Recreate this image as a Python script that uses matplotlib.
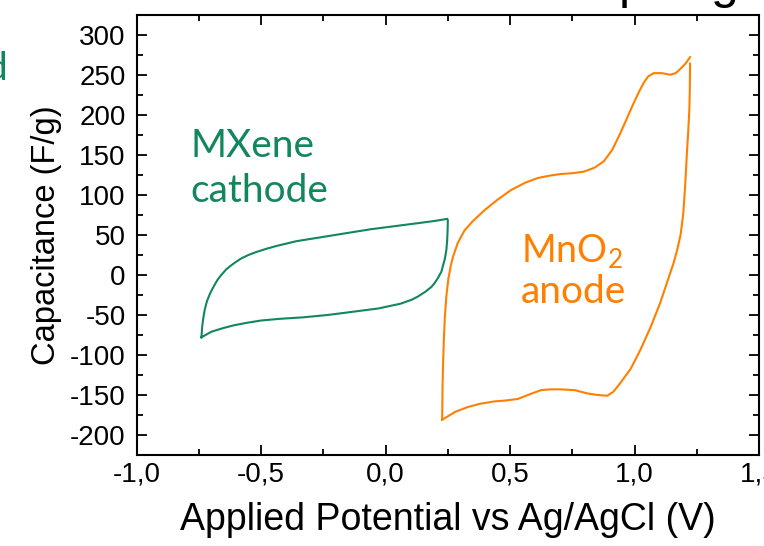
import matplotlib
matplotlib.use("Agg")
import matplotlib.pyplot as plt
from matplotlib.ticker import MultipleLocator, FuncFormatter

# ---- data ----
mxene_v_fwd = [-0.740, -0.737, -0.733, -0.727, -0.718, -0.705, -0.690, -0.675, -0.660, -0.640,
               -0.620, -0.600, -0.580, -0.550, -0.520, -0.480, -0.440, -0.400, -0.360, -0.260,
               -0.160, -0.060, 0.040, 0.140, 0.200, 0.248]
mxene_c_fwd = [-78, -65, -55, -44, -33, -23, -14, -6, 0, 7,
               12, 16.5, 20.5, 25, 28.5, 32.5, 36, 39, 42, 47,
               52, 57, 61, 65, 67.5, 70]
mxene_v_rev = [0.250, 0.249, 0.247, 0.244, 0.238, 0.230, 0.224, 0.210, 0.195, 0.184,
               0.160, 0.130, 0.105, 0.060, 0.000, -0.030, -0.130, -0.230, -0.330, -0.430,
               -0.500, -0.560, -0.610, -0.654, -0.700, -0.740]
mxene_c_rev = [68, 55, 42, 31, 20, 11, 4, -4, -11, -15,
               -21, -27, -31, -36, -40, -42, -46, -50, -53, -55,
               -57, -60, -63, -66.6, -71, -78]

mno2_v_fwd = [0.227, 0.228, 0.229, 0.231, 0.234, 0.238, 0.244, 0.252, 0.262, 0.271,
              0.290, 0.318, 0.350, 0.398, 0.450, 0.504, 0.560, 0.611, 0.660, 0.704,
              0.750, 0.797, 0.840, 0.877, 0.910, 0.943, 0.970, 0.997, 1.020, 1.037,
              1.055, 1.077, 1.110, 1.143, 1.165, 1.183, 1.205, 1.223]
mno2_c_fwd = [-181, -160, -135, -110, -80, -52, -27, -5, 12, 23,
              40, 56, 67, 81, 94, 106, 115, 121, 124, 126,
              127, 129, 134, 142, 156, 177, 196, 215, 230, 240,
              248, 252, 252, 250, 252, 257, 264, 272]
mno2_v_rev = [1.223, 1.222, 1.220, 1.216, 1.210, 1.204, 1.196, 1.185, 1.172, 1.157,
              1.130, 1.103, 1.065, 1.023, 0.985, 0.943, 0.915, 0.890, 0.850, 0.810,
              0.760, 0.704, 0.660, 0.624, 0.580, 0.531, 0.480, 0.438, 0.380, 0.331,
              0.280, 0.227]
mno2_c_rev = [264, 230, 205, 181, 150, 115, 77, 50, 32, 15,
              -10, -35, -65, -94, -117, -135, -146, -151, -150, -148,
              -144, -143, -143, -144, -149, -155, -157, -158, -161, -165,
              -171, -181]

x_ticks = [-1.0, -0.5, 0.0, 0.5, 1.0, 1.5]
y_ticks = [-200, -150, -100, -50, 0, 50, 100, 150, 200, 250, 300]

GREEN = "#12875E"
ORANGE = "#FF8000"

plt.rcParams['font.family'] = ['Liberation Sans', 'DejaVu Sans']

fig = plt.figure(figsize=(7.64, 5.46), dpi=100)
ax = fig.add_axes([136.7/764, 1-455/546, (759-136.7)/764, (455-14.7)/546])

ax.plot(mxene_v_fwd + mxene_v_rev, mxene_c_fwd + mxene_c_rev, color=GREEN, lw=1.5)
ax.plot(mno2_v_fwd, mno2_c_fwd, color=ORANGE, lw=1.5)
ax.plot(mno2_v_rev, mno2_c_rev, color=ORANGE, lw=1.5)

ax.set_xlim(-1.0, 1.5)
ax.set_ylim(-225, 325)
ax.set_xticks(x_ticks)
ax.set_yticks(y_ticks)
ax.xaxis.set_minor_locator(MultipleLocator(0.25))
ax.yaxis.set_minor_locator(MultipleLocator(25))
ax.xaxis.set_major_formatter(FuncFormatter(lambda v, p: f"{v:.1f}".replace('.', ',')))
ax.yaxis.set_major_formatter(FuncFormatter(lambda v, p: f"{int(round(v))}"))

ax.tick_params(which='both', direction='in', top=True, right=True, width=1.3, colors='black')
ax.tick_params(which='major', length=7.5, labelsize=20)
ax.tick_params(axis='x', which='major', pad=5)
ax.tick_params(axis='y', which='major', pad=8)
ax.tick_params(which='minor', length=4.5)
for s in ax.spines.values():
    s.set_linewidth(1.5)

ax.set_xlabel("Applied Potential vs Ag/AgCl (V)", fontsize=27, labelpad=10)
ax.set_ylabel("Capacitance (F/g)", fontsize=23.5, labelpad=6)

ann_font = ['Lato', 'DejaVu Sans']
fig.text(190/764, 1-157/546, "MXene", fontsize=28, color=GREEN, family=ann_font, va='baseline')
fig.text(190/764, 1-202/546, "cathode", fontsize=28, color=GREEN, family=ann_font, va='baseline')
fig.text(521/764, 1-263/546, r"MnO$_\mathregular{2}$", fontsize=27, color=ORANGE, family=ann_font, va='baseline')
fig.text(521/764, 1-303/546, "anode", fontsize=28, color=ORANGE, family=ann_font, va='baseline')

# partially visible texts at the figure edges (cropped in the reference)
fig.text(7/764, 1-80/546, "d", fontsize=28, color=GREEN, family=ann_font, ha='right', va='baseline')
fig.text(619/764, 1-8/546, "p", fontsize=36, color='black', va='bottom')
fig.text(711/764, 1-8/546, "g", fontsize=36, color='black', va='bottom')

fig.savefig("out.png", dpi=100)
